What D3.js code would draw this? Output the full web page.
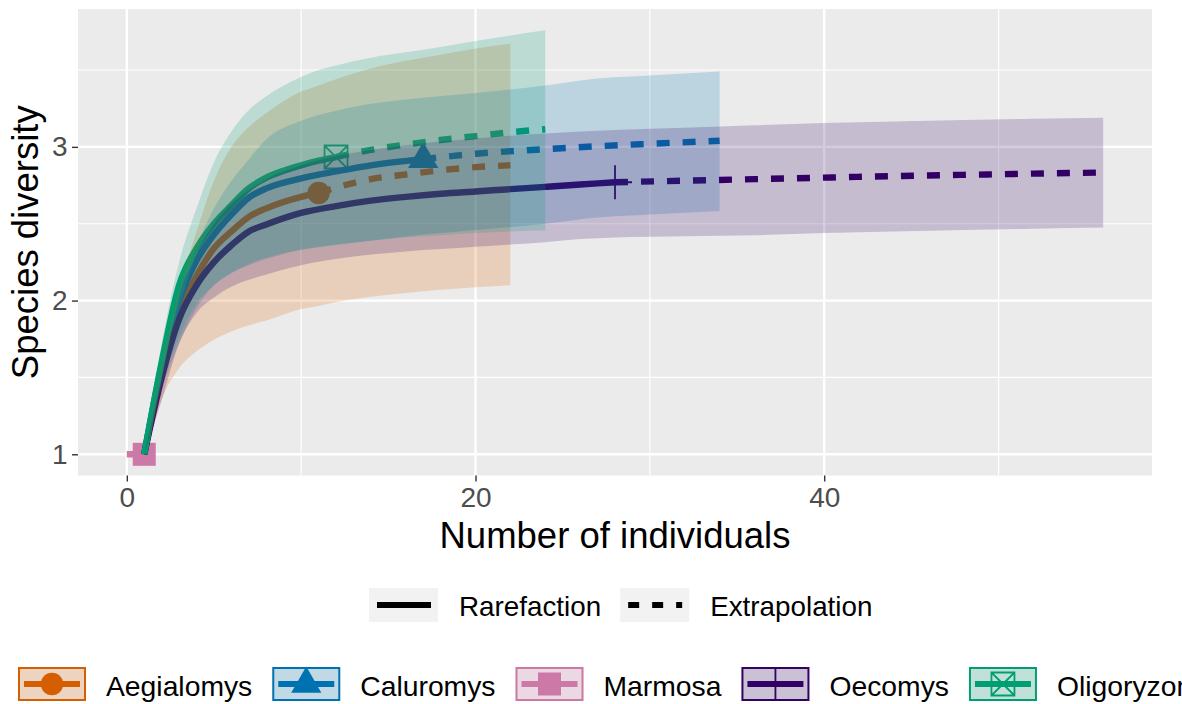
<!DOCTYPE html>
<html><head><meta charset="utf-8">
<script src="https://cdn.jsdelivr.net/npm/d3@7"></script>
<style>
body{margin:0;background:#fff}
svg{display:block}
text{font-family:"Liberation Sans",Arial,Helvetica,sans-serif}
</style>
</head><body>
<svg id="c" width="1182" height="704"></svg>
<script>
// ---------- data ----------
const species = ["Aegialomys","Caluromys","Marmosa","Oecomys","Oligoryzomys"];
const observedSize = [11, 17, 1, 28, 12];
const colors = ["#D55E00","#0072B2","#CC79A7","#330066","#009E73"];
const shapes = ["circle","triangle","square","plus","squarecross"];
const methods = ["Rarefaction","Extrapolation"];

const aegM   = [1,2,3,4,5,6,7,8,10,11,12,14,16,18,20,22];
const aegQD  = [1,1.55,1.92,2.16,2.34,2.45,2.545,2.60,2.675,2.70,2.735,2.79,2.82,2.848,2.868,2.88];
const aegLCL = [1,1.36,1.56,1.67,1.745,1.80,1.84,1.87,1.945,1.965,1.99,2.025,2.05,2.07,2.087,2.10];
const aegUCL = [1,1.6,2.08,2.45,2.78,3.0,3.13,3.22,3.36,3.40,3.44,3.51,3.56,3.60,3.64,3.672];

const calM   = [1,2,3,4,5,6,7,8,10,12,14,17,20,24,27,30,34];
const calQD  = [1,1.58,2.0,2.26,2.43,2.56,2.67,2.73,2.795,2.84,2.88,2.92,2.955,2.985,3.004,3.02,3.04];
const calLCL = [1,1.42,1.72,1.95,2.1,2.18,2.23,2.27,2.33,2.365,2.39,2.43,2.46,2.50,2.54,2.56,2.583];
const calUCL = [1,1.55,2.0,2.35,2.6,2.78,2.92,3.05,3.17,3.235,3.28,3.32,3.35,3.40,3.445,3.465,3.49];

const marM   = [0,1];
const marQD  = [1,1];
const marLCL = [1,1];
const marUCL = [1,1];

const oecM   = [1,2,3,4,5,6,7,8,10,12,14,16,18,20,22,24,26,28,32,36,40,44,48,52,56];
const oecQD  = [1,1.5,1.88,2.1,2.25,2.36,2.45,2.495,2.57,2.615,2.65,2.675,2.695,2.71,2.725,2.74,2.755,2.77,2.78,2.79,2.80,2.81,2.818,2.826,2.833];
const oecLCL = [1,1.35,1.72,1.92,2.02,2.09,2.135,2.17,2.23,2.27,2.30,2.32,2.335,2.35,2.365,2.38,2.40,2.41,2.418,2.425,2.44,2.45,2.46,2.468,2.475];
const oecUCL = [1,1.5,1.95,2.3,2.5,2.63,2.72,2.79,2.88,2.94,2.98,3.01,3.035,3.055,3.072,3.087,3.10,3.11,3.125,3.14,3.155,3.165,3.175,3.183,3.19];

const oliM   = [1,2,3,4,5,6,7,8,9,10,11,12,14,16,18,20,22,24];
const oliQD  = [1,1.6,2.1,2.34,2.50,2.62,2.73,2.80,2.845,2.88,2.91,2.934,2.98,3.015,3.045,3.07,3.095,3.115];
const oliLCL = [1,1.45,1.76,1.98,2.1,2.18,2.24,2.28,2.31,2.33,2.345,2.36,2.39,2.41,2.425,2.44,2.45,2.457];
const oliUCL = [1,1.72,2.25,2.6,2.9,3.1,3.24,3.33,3.40,3.455,3.50,3.53,3.58,3.615,3.65,3.689,3.725,3.759];

const xTicks = [0,20,40];
const yTicks = [1,2,3];
const xMinor = [10,30,50];
const yMinor = [1.5,2.5,3.5];
const xTitle = "Number of individuals";
const yTitle = "Species diversity";

// ---------- assemble ----------
const mArr = [aegM,calM,marM,oecM,oliM];
const qdArr = [aegQD,calQD,marQD,oecQD,oliQD];
const lclArr = [aegLCL,calLCL,marLCL,oecLCL,oliLCL];
const uclArr = [aegUCL,calUCL,marUCL,oecUCL,oliUCL];
const series = species.map((name,i)=>({
  name, n: observedSize[i], color: colors[i], shape: shapes[i],
  pts: mArr[i].map((m,j)=>({m, qD: qdArr[i][j], lcl: lclArr[i][j], ucl: uclArr[i][j]}))
}));

const svg = d3.select("#c");
const P = {l:78, r:1152, t:9, b:475.5};

const allPts = series.flatMap(s=>s.pts);
const xExt = d3.extent(allPts, d=>d.m);
const yExt = [d3.min(allPts,d=>d.lcl), d3.max(allPts,d=>d.ucl)];
const xPad = (xExt[1]-xExt[0])*0.05, yPad = (yExt[1]-yExt[0])*0.05;
const x = d3.scaleLinear().domain([xExt[0]-xPad, xExt[1]+xPad]).range([P.l, P.r]);
const y = d3.scaleLinear().domain([yExt[0]-yPad, yExt[1]+yPad]).range([P.b, P.t]);

// panel
svg.append("rect").attr("x",P.l).attr("y",P.t).attr("width",P.r-P.l).attr("height",P.b-P.t).attr("fill","#EBEBEB");
const grid = svg.append("g");
xMinor.forEach(v=>grid.append("line").attr("x1",x(v)).attr("x2",x(v)).attr("y1",P.t).attr("y2",P.b).attr("stroke","#fff").attr("stroke-width",1.2));
yMinor.forEach(v=>grid.append("line").attr("y1",y(v)).attr("y2",y(v)).attr("x1",P.l).attr("x2",P.r).attr("stroke","#fff").attr("stroke-width",1.2));
xTicks.forEach(v=>grid.append("line").attr("x1",x(v)).attr("x2",x(v)).attr("y1",P.t).attr("y2",P.b).attr("stroke","#fff").attr("stroke-width",2.4));
yTicks.forEach(v=>grid.append("line").attr("y1",y(v)).attr("y2",y(v)).attr("x1",P.l).attr("x2",P.r).attr("stroke","#fff").attr("stroke-width",2.4));

// clip
svg.append("clipPath").attr("id","clip").append("rect").attr("x",P.l).attr("y",P.t).attr("width",P.r-P.l).attr("height",P.b-P.t);
const plot = svg.append("g").attr("clip-path","url(#clip)");

// marker drawer
function marker(g, shape, cx, cy, color){
  if(shape==="circle"){
    g.append("circle").attr("cx",cx).attr("cy",cy).attr("r",11.2).attr("fill",color);
  } else if(shape==="triangle"){
    const xc=11.2, r=1.5551*xc, yc=0.7776*xc, xw=1.3468*xc;
    g.append("path").attr("d",`M${cx},${cy-r}L${cx+xw},${cy+yc}L${cx-xw},${cy+yc}Z`).attr("fill",color);
  } else if(shape==="square"){
    const h=11.5;
    g.append("rect").attr("x",cx-h).attr("y",cy-h).attr("width",2*h).attr("height",2*h).attr("fill",color);
  } else if(shape==="plus"){
    const h=17;
    g.append("path").attr("d",`M${cx-h},${cy}L${cx+h},${cy}M${cx},${cy-h}L${cx},${cy+h}`).attr("stroke",color).attr("stroke-width",1.8).attr("fill","none");
  } else if(shape==="squarecross"){
    const h=11.5;
    g.append("path").attr("d",`M${cx-h},${cy-h}H${cx+h}V${cy+h}H${cx-h}ZM${cx-h},${cy-h}L${cx+h},${cy+h}M${cx+h},${cy-h}L${cx-h},${cy+h}`)
      .attr("stroke",color).attr("stroke-width",1.8).attr("fill","none");
  }
}

// points (observed)
const gPts = plot.append("g");
series.forEach(s=>{
  const o = s.pts.find(p=>p.m===s.n);
  marker(gPts, s.shape, x(o.m), y(o.qD), s.color);
});

// lines
const line = d3.line().x(d=>x(d.m)).y(d=>y(d.qD)).curve(d3.curveMonotoneX);
const gLines = plot.append("g");
series.forEach(s=>{
  const rare = s.pts.filter(p=>p.m<=s.n);
  const extr = s.pts.filter(p=>p.m>=s.n);
  if(rare.length>1) gLines.append("path").attr("d",line(rare)).attr("fill","none").attr("stroke",s.color).attr("stroke-width",6.4).attr("stroke-linejoin","round");
  if(extr.length>1) gLines.append("path").attr("d",line(extr)).attr("fill","none").attr("stroke",s.color).attr("stroke-width",6.4).attr("stroke-dasharray","13,13");
});

// ribbons
const area = d3.area().x(d=>x(d.m)).y0(d=>y(d.lcl)).y1(d=>y(d.ucl)).curve(d3.curveMonotoneX);
const gRib = plot.append("g");
series.forEach(s=>{
  gRib.append("path").attr("d",area(s.pts)).attr("fill",s.color).attr("fill-opacity",0.2);
});

// axes
const xAxis = svg.append("g").attr("transform",`translate(0,${P.b})`)
  .call(d3.axisBottom(x).tickValues(xTicks).tickSize(6).tickPadding(5.5).tickFormat(d3.format("d")));
const yAxis = svg.append("g").attr("transform",`translate(${P.l},0)`)
  .call(d3.axisLeft(y).tickValues(yTicks).tickSize(6).tickPadding(4.5).tickFormat(d3.format("d")));
[xAxis,yAxis].forEach(a=>{
  a.select(".domain").remove();
  a.selectAll(".tick line").attr("stroke","#333333").attr("stroke-width",1.4);
  a.selectAll(".tick text").attr("fill","#4D4D4D").attr("font-size",28).attr("font-family","Liberation Sans, Arial, sans-serif");
});

svg.append("text").attr("x",(P.l+P.r)/2).attr("y",548).attr("text-anchor","middle")
  .attr("font-size",36.5).attr("fill","#000").text(xTitle);
svg.append("text").attr("transform",`translate(38,${(P.t+P.b)/2}) rotate(-90)`).attr("text-anchor","middle")
  .attr("font-size",36.5).attr("fill","#000").text(yTitle);

// legend 1: method
const lg1 = svg.append("g");
let lx = 369;
methods.forEach((m,i)=>{
  lg1.append("rect").attr("x",lx).attr("y",588).attr("width",69).attr("height",34).attr("fill","#F2F2F2");
  const ln = lg1.append("line").attr("x1",lx+8).attr("x2",lx+62).attr("y1",605).attr("y2",605)
    .attr("stroke","#000").attr("stroke-width",6);
  if(i===1) ln.attr("stroke-dasharray","11,13");
  const t = lg1.append("text").attr("x",lx+90).attr("y",616).attr("font-size",27.8).attr("fill","#000").text(m);
  lx = lx + 90 + t.node().getComputedTextLength() + 19;
});

// legend 2: species
const lg2 = svg.append("g");
let sx = 18;
series.forEach(s=>{
  const by=667, bh=34, bw=68;
  lg2.append("rect").attr("x",sx).attr("y",by).attr("width",bw).attr("height",bh).attr("fill","#F2F2F2");
  lg2.append("rect").attr("x",sx+1).attr("y",by+1).attr("width",bw-2).attr("height",bh-2)
    .attr("fill",s.color).attr("fill-opacity",0.2).attr("stroke",s.color).attr("stroke-width",2);
  lg2.append("line").attr("x1",sx+6).attr("x2",sx+bw-6).attr("y1",by+bh/2).attr("y2",by+bh/2)
    .attr("stroke",s.color).attr("stroke-width",6);
  marker(lg2, s.shape, sx+bw/2, by+bh/2, s.color);
  const t = lg2.append("text").attr("x",sx+bw+20).attr("y",696).attr("font-size",28.3).attr("fill","#000").text(s.name);
  sx = sx + bw + 20 + t.node().getComputedTextLength() + 20;
});
</script>
</body></html>
